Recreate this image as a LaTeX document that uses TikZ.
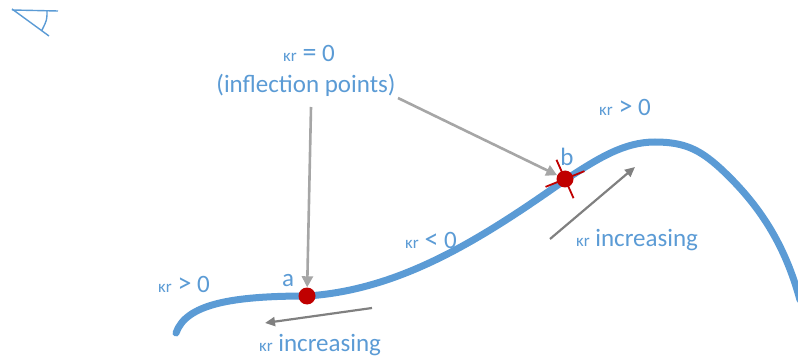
\documentclass[tikz,border=0pt]{standalone}
\usepackage{fontspec}
\setmainfont{Carlito}
\usetikzlibrary{arrows.meta}
\definecolor{cblue}{HTML}{5B9BD5}
\definecolor{cred}{HTML}{C00000}
\definecolor{glight}{HTML}{A6A6A6}
\definecolor{gdark}{HTML}{808080}
\newcommand{\kr}{{\fontsize{17}{17}\selectfont κr}}
\newcommand{\rel}[1]{{\fontsize{28}{28}\selectfont #1}}
\begin{document}
\begin{tikzpicture}[x=1pt,y=-1pt,
  lbl/.style={text=cblue,font=\fontsize{25}{25}\selectfont,inner sep=0pt},
  dotnode/.style={circle,fill=cred,inner sep=0pt,minimum size=17pt},
  arrl/.style={draw=glight,line width=2.6pt,-{Triangle[length=11pt,width=11pt]}},
  arrd/.style={draw=gdark,line width=2.2pt,-{Triangle[length=10pt,width=9pt]}},
  curve/.style={draw=cblue,line width=7pt,line cap=round},
  redmark/.style={draw=cred,line width=1.8pt}]
\useasboundingbox (0,0) rectangle (798,358);
% corner mark
\draw[cblue,line width=1.4pt] (12,10) -- (58,11) (12,9) -- (49,36) (47,11) .. controls (47,20) .. (42,30);
% curve
\begin{scope}
\clip (0,0) rectangle (798,358);
\draw[curve] (176,333) .. controls (186,304) and (232,296) .. (307,296)
  .. controls (400,290) and (480,240) .. (565,180)
  .. controls (600,157) and (625,142) .. (655,142)
  .. controls (685,142) and (700,150) .. (720,168)
  .. controls (760,205) and (785,245) .. (800,300);
\end{scope}
% red marks at b
\draw[redmark] (565,179) -- +(-22:21) (565,179) -- +(158:21);
\draw[redmark] (565,179) -- +(66:21) (565,179) -- +(246:21);
\node[dotnode] (a) at (307,296) {};
\node[dotnode] (b) at (565,179) {};
% labels
\node[lbl] (top) at (309,53) {\kr{} \rel{=} 0};
\node[lbl] (infl) at (306,85) {(inflection points)};
\node[lbl] (la) at (288,281) {a};
\node[lbl] (lb) at (567,157) {b};
\node[lbl] (gl) at (184,284) {\kr{} \rel{>} 0};
\node[lbl] (lt) at (431,240) {\kr{} \rel{<} 0};
\node[lbl] (gr) at (625,107) {\kr{} \rel{>} 0};
\node[lbl] (incl) at (320,345) {\kr{} increasing};
\node[lbl] (incr) at (637,240) {\kr{} increasing};
% arrows
\coordinate (s1) at (311,107);
\coordinate (s2) at (398,98);
\draw[arrl] (s1) -- (a);
\draw[arrl] (s2) -- (b);
\coordinate (l1) at (372,308);
\coordinate (l2) at (265,323);
\coordinate (r1) at (550,239);
\coordinate (r2) at (635,167);
\draw[arrd] (l1) -- (l2);
\draw[arrd] (r1) -- (r2);
\end{tikzpicture}
\end{document}
